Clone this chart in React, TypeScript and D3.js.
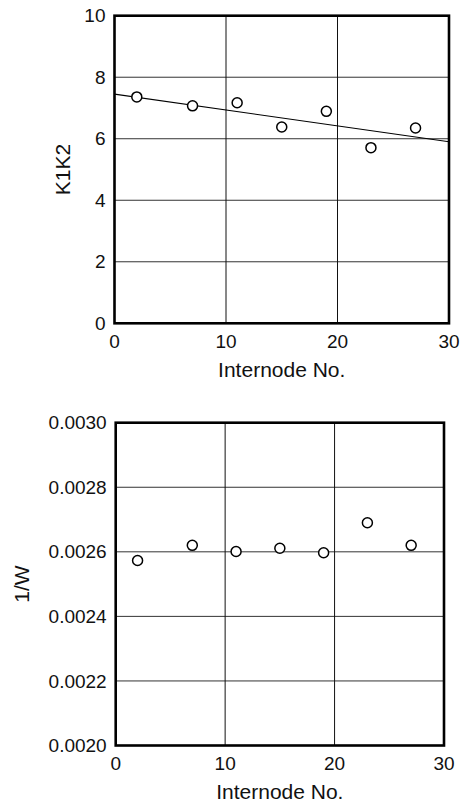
import * as d3 from "d3";

// Internode numbers (shared by both panels)
const internodes = [2, 7, 11, 15, 19, 23, 27];

// Top panel: K1K2
const k1k2Values = [7.36, 7.07, 7.17, 6.38, 6.89, 5.71, 6.35];
const k1k2Fit: [number, number][] = [
  [0, 7.45],
  [30, 5.9],
];
const k1k2Ticks = [0, 2, 4, 6, 8, 10];

// Bottom panel: 1/W
const invWValues = [0.002573, 0.00262, 0.002601, 0.002611, 0.002597, 0.00269, 0.00262];
const invWTicks = [0.002, 0.0022, 0.0024, 0.0026, 0.0028, 0.003];

const xTicks = [0, 10, 20, 30];
const FONT = "'Liberation Sans', Arial, Helvetica, sans-serif";

interface PanelProps {
  left: number;
  right: number;
  top: number;
  bottom: number;
  yDomain: [number, number];
  yTicks: number[];
  yFormat: (v: number) => string;
  yLabel: string;
  yLabelX: number;
  values: number[];
  fit?: [number, number][];
}

function Panel({ left, right, top, bottom, yDomain, yTicks, yFormat, yLabel, yLabelX, values, fit }: PanelProps) {
  const x = d3.scaleLinear().domain([0, 30]).range([left, right]);
  const y = d3.scaleLinear().domain(yDomain).range([bottom, top]);
  const line = d3
    .line<[number, number]>()
    .x((d) => x(d[0]))
    .y((d) => y(d[1]));

  return (
    <g>
      {/* grid */}
      {yTicks.slice(1, -1).map((t) => (
        <line key={"gy" + t} x1={left} x2={right} y1={y(t)} y2={y(t)} stroke="#333" strokeWidth={1} />
      ))}
      {xTicks.slice(1, -1).map((t) => (
        <line key={"gx" + t} x1={x(t)} x2={x(t)} y1={top} y2={bottom} stroke="#111" strokeWidth={1} />
      ))}

      {fit && <path d={line(fit) || ""} fill="none" stroke="#000" strokeWidth={1.1} />}

      {internodes.map((n, i) => (
        <circle key={n} cx={x(n)} cy={y(values[i])} r={5} fill="#fff" stroke="#000" strokeWidth={1.5} />
      ))}

      {/* frame */}
      <rect x={left} y={top} width={right - left} height={bottom - top} fill="none" stroke="#000" strokeWidth={2.6} />

      {/* y tick labels */}
      {yTicks.map((t) => (
        <text
          key={"ty" + t}
          x={left - 9}
          y={y(t)}
          dy="0.35em"
          textAnchor="end"
          fontFamily={FONT}
          fontSize={19}
          fill="#111"
        >
          {yFormat(t)}
        </text>
      ))}

      {/* x tick labels */}
      {xTicks.map((t) => (
        <text
          key={"tx" + t}
          x={x(t)}
          y={bottom + 18}
          dy="0.35em"
          textAnchor="middle"
          fontFamily={FONT}
          fontSize={19}
          fill="#111"
        >
          {t}
        </text>
      ))}

      <text
        x={(left + right) / 2}
        y={bottom + 46}
        dy="0.35em"
        textAnchor="middle"
        fontFamily={FONT}
        fontSize={21}
        fill="#111"
      >
        Internode No.
      </text>

      <text
        transform={`translate(${yLabelX},${(top + bottom) / 2}) rotate(-90)`}
        dy="0.35em"
        textAnchor="middle"
        fontFamily={FONT}
        fontSize={21}
        fill="#111"
      >
        {yLabel}
      </text>
    </g>
  );
}

export default function App() {
  return (
    <svg
      width={466}
      height={803}
      style={{ position: "absolute", left: 0, top: 0, background: "#fff" }}
    >
      <Panel
        left={114.5}
        right={449}
        top={15.7}
        bottom={323.3}
        yDomain={[0, 10]}
        yTicks={k1k2Ticks}
        yFormat={d3.format("d")}
        yLabel="K1K2"
        yLabelX={63}
        values={k1k2Values}
        fit={k1k2Fit}
      />
      <Panel
        left={115.7}
        right={444}
        top={422.7}
        bottom={745.5}
        yDomain={[0.002, 0.003]}
        yTicks={invWTicks}
        yFormat={d3.format(".4f")}
        yLabel="1/W"
        yLabelX={22}
        values={invWValues}
      />
    </svg>
  );
}
